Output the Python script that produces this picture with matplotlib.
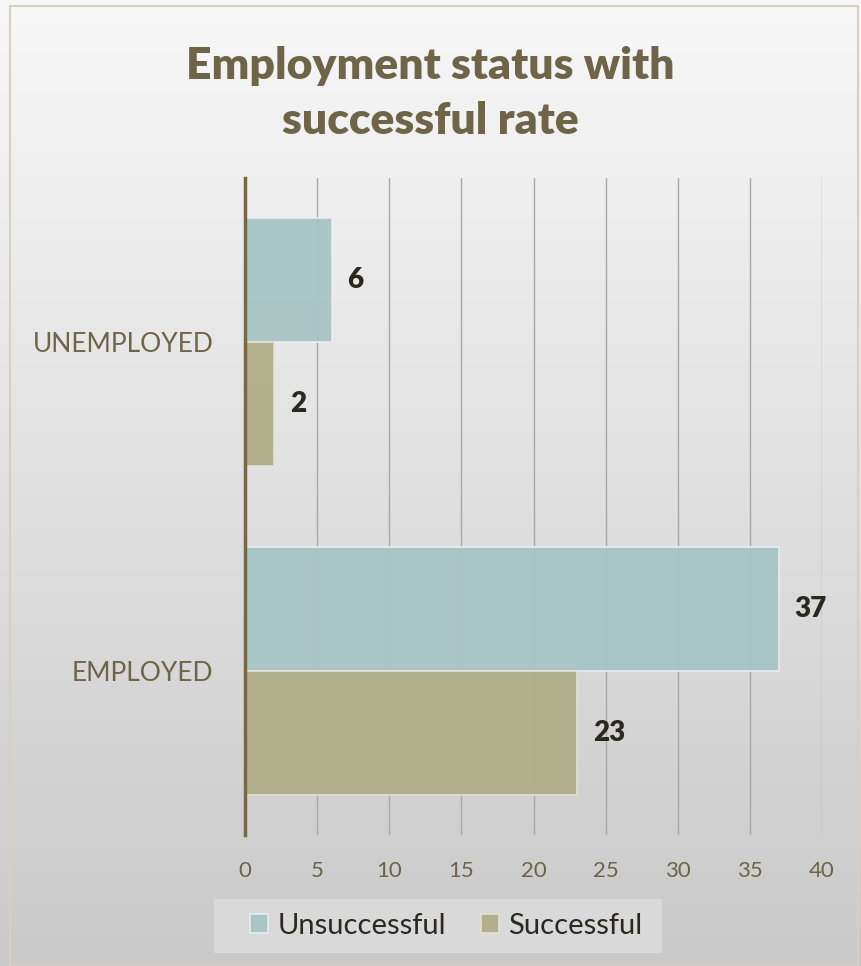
import numpy as np
import matplotlib.pyplot as plt
from matplotlib.patches import Rectangle

plt.rcParams['font.family'] = ['Lato', 'DejaVu Sans']

# data
categories = ["EMPLOYED", "UNEMPLOYED"]
unsuccessful = [37, 6]
successful = [23, 2]
xticks = [0, 5, 10, 15, 20, 25, 30, 35, 40]

col_unsucc = "#a8c4c4"
col_succ = "#b0ad88"
text_col = "#6e6448"

fig = plt.figure(figsize=(8.61, 9.66), dpi=100)

# gradient background
bg = fig.add_axes([0, 0, 1, 1], zorder=-10)
grad = np.linspace(0, 1, 256).reshape(-1, 1)
top = np.array([0.97, 0.97, 0.97])
bot = np.array([0.79, 0.79, 0.79])
img = top + (bot - top) * grad[:, :, None]
bg.imshow(img, aspect="auto", extent=[0, 1, 0, 1])
bg.add_patch(Rectangle((0.012, 0.0), 0.985, 0.994, fill=False,
                       edgecolor="#d6d0bc", lw=1.5))
# legend box
bg.add_patch(Rectangle((214 / 861, 1 - 953 / 966), 448 / 861, 54 / 966,
                       facecolor="#d9d9d9", edgecolor="none"))
bg.set_xlim(0, 1)
bg.set_ylim(0, 1)
bg.axis("off")

ax = fig.add_axes([0.2846, 0.1356, 0.6701, 0.6801])
ax.set_facecolor("none")

y = np.arange(len(categories))
h = 0.378
b1 = ax.barh(y + h / 2, unsuccessful, height=h, color=col_unsucc,
             edgecolor="#e8eeee", lw=1.2, alpha=0.95, label="Unsuccessful", zorder=3)
b2 = ax.barh(y - h / 2, successful, height=h, color=col_succ,
             edgecolor="#e4e2d6", lw=1.2, alpha=0.95, label="Successful", zorder=3)

for bars, vals in [(b1, unsuccessful), (b2, successful)]:
    for bar, v in zip(bars, vals):
        ax.text(v + 1.1, bar.get_y() + bar.get_height() / 2, str(v),
                va="center", ha="left", fontsize=20, fontweight="heavy",
                color="#2b2820", zorder=4)

ax.set_xlim(0, 40)
ax.set_ylim(-0.5, 1.5)
ax.set_xticks(xticks)
ax.set_yticks(y)
ax.set_yticklabels(categories)
ax.grid(axis="x", color="#a8a8a8", lw=1.0, zorder=1)
ax.tick_params(axis="x", length=0, pad=18.5, labelsize=16, labelcolor=text_col)
ax.tick_params(axis="y", length=0, pad=22.8, labelsize=19, labelcolor=text_col)
for s in ["top", "right", "bottom"]:
    ax.spines[s].set_visible(False)
ax.spines["left"].set_color("#76694a")
ax.spines["left"].set_linewidth(2.5)
ax.spines["left"].set_zorder(5)

fig.text(0.5, 0.903, "Employment status with\nsuccessful rate", ha="center", va="center",
         fontsize=32, fontweight="heavy", color=text_col, linespacing=1.45)

leg = fig.legend(handles=[b1, b2], loc="center left", bbox_to_anchor=(250 / 861, 0.0414),
                 ncol=2, fontsize=21, frameon=False,
                 handlelength=0.62, handleheight=0.62, handletextpad=0.31,
                 columnspacing=1.2, borderpad=0, borderaxespad=0)
for t in leg.get_texts():
    t.set_color("#2b2820")

fig.savefig("out.png", dpi=100)
